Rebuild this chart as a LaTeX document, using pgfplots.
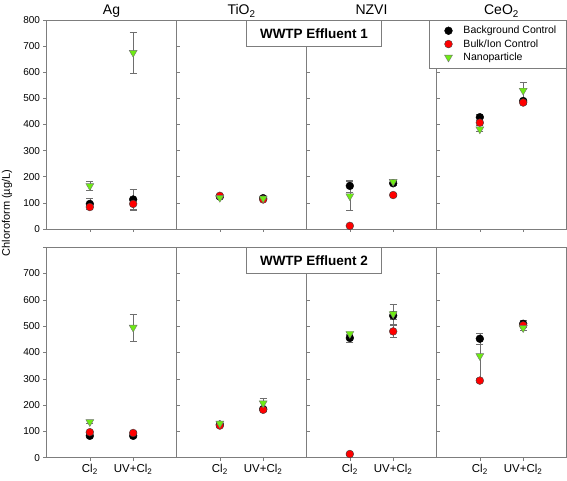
\documentclass[border=0pt]{standalone}
\usepackage{fontspec}
\setmainfont{Liberation Sans}
\usepackage{pgfplots}
\usepackage{pgfplotstable}
\pgfplotsset{compat=1.18}
\definecolor{npgreen}{RGB}{110,235,20}
\definecolor{axgray}{RGB}{125,125,125}
\definecolor{errgray}{RGB}{110,110,110}

% x: 1 = Cl2, 2 = UV+Cl2 ; bg = Background Control, bk = Bulk/Ion Control, np = Nanoparticle
\pgfplotstableread{
x bg bge bk bke np npe
1 96 20 84 8 165 16
2 113 40 96 20 675 77
}\EoneAg
\pgfplotstableread{
x bg bge bk bke np npe
1 124 5 127 5 120 4
2 118 5 113 4 117 4
}\EoneTi
\pgfplotstableread{
x bg bge bk bke np npe
1 165 23 12 3 126 55
2 175 8 130 5 181 5
}\EoneNZ
\pgfplotstableread{
x bg bge bk bke np npe
1 428 10 407 8 382 8
2 490 8 484 8 530 32
}\EoneCe
\pgfplotstableread{
x bg bge bk bke np npe
1 83 5 97 5 136 5
2 83 5 94 5 495 52
}\EtwoAg
\pgfplotstableread{
x bg bge bk bke np npe
1 126 5 122 5 130 5
2 185 5 182 5 207 19
}\EtwoTi
\pgfplotstableread{
x bg bge bk bke np npe
1 455 15 14 3 471 5
2 540 15 480 22 546 37
}\EtwoNZ
\pgfplotstableread{
x bg bge bk bke np npe
1 452 20 293 5 387 85
2 509 12 503 8 493 8
}\EtwoCe

\pgfplotsset{
  panel/.style={
    scale only axis, width=130pt, xmin=0, xmax=3, ymin=0, ymax=800,
    xtick={1,2}, xticklabels={}, ytick={0,100,...,800},
    axis line style={axgray, line width=0.6pt},
    every tick/.style={axgray, line width=0.5pt}, major tick length=3pt,
    tick align=outside, xtick pos=lower, ytick pos=left,
    /pgf/number format/assume math mode=true,
    yticklabel style={font=\fontsize{10}{12}\selectfont},
    xticklabel style={font=\fontsize{11.5}{13}\selectfont},
    every axis title shift=0pt,
    title style={font=\fontsize{14}{16}\selectfont, at={(0.5,1)}, anchor=base, yshift=5pt},
    clip=false, anchor=south west,
  },
  inner/.style={ytick align=inside, yticklabels={}},
  errs/.style={error bars/y dir=both, error bars/y explicit,
    error bars/error bar style={errgray, line width=0.5pt},
    error bars/error mark options={errgray, rotate=90, mark size=3.5pt, line width=0.5pt}},
  bgs/.style={only marks, mark=*, mark size=3.9pt, mark options={fill=black, draw=black}, errs},
  bks/.style={only marks, mark=*, mark size=3.9pt, mark options={fill=red, draw=black!75}, errs},
  nps/.style={only marks, mark=triangle*, mark size=4.6pt, mark options={fill=npgreen, draw=black!55, rotate=180}, errs},
}

\begin{document}
\begin{tikzpicture}[x=1pt,y=1pt]
\useasboundingbox (0,0) rectangle (567,481);
% ---------- top row: WWTP Effluent 1 ----------
\begin{axis}[panel, height=209pt, at={(46.5pt,252pt)}, title={Ag}]
\addplot[bgs] table[x=x, y=bg, y error=bge] {\EoneAg};
\addplot[bks] table[x=x, y=bk, y error=bke] {\EoneAg};
\addplot[nps] table[x=x, y=np, y error=npe] {\EoneAg};
\end{axis}
\begin{axis}[panel, inner, height=209pt, at={(176.5pt,252pt)}, title={TiO\textsubscript{2}}]
\addplot[bgs] table[x=x, y=bg, y error=bge] {\EoneTi};
\addplot[bks] table[x=x, y=bk, y error=bke] {\EoneTi};
\addplot[nps] table[x=x, y=np, y error=npe] {\EoneTi};
\end{axis}
\begin{axis}[panel, inner, height=209pt, at={(306.5pt,252pt)}, title={NZVI}]
\addplot[bgs] table[x=x, y=bg, y error=bge] {\EoneNZ};
\addplot[bks] table[x=x, y=bk, y error=bke] {\EoneNZ};
\addplot[nps] table[x=x, y=np, y error=npe] {\EoneNZ};
\end{axis}
\begin{axis}[panel, inner, height=209pt, at={(436.5pt,252pt)}, title={CeO\textsubscript{2}},
  legend image code/.code={\draw[#1] plot coordinates {(10pt,0pt)};
    \path[draw=none, fill=none] (0pt,0pt) rectangle (24pt,0.1pt);},
  legend style={at={(1,1)}, anchor=north east, draw=axgray, fill=white,
    font=\fontsize{10.5}{12}\selectfont, inner xsep=9pt, inner ysep=5pt,
    nodes={inner sep=1pt}, row sep=2.2pt, column sep=0pt}, legend cell align=left]
\addplot[bgs] table[x=x, y=bg, y error=bge] {\EoneCe};
\addplot[bks] table[x=x, y=bk, y error=bke] {\EoneCe};
\addplot[nps] table[x=x, y=np, y error=npe] {\EoneCe};
\legend{Background Control, Bulk/Ion Control, Nanoparticle}
\end{axis}
% ---------- bottom row: WWTP Effluent 2 ----------
\begin{axis}[panel, height=210.5pt, at={(46.5pt,23.3pt)},
  yticklabels={0,100,200,300,400,500,600,700,{}},
  xticklabels={Cl\textsubscript{2}, UV+Cl\textsubscript{2}}]
\addplot[bgs] table[x=x, y=bg, y error=bge] {\EtwoAg};
\addplot[bks] table[x=x, y=bk, y error=bke] {\EtwoAg};
\addplot[nps] table[x=x, y=np, y error=npe] {\EtwoAg};
\end{axis}
\begin{axis}[panel, inner, height=210.5pt, at={(176.5pt,23.3pt)},
  xticklabels={Cl\textsubscript{2}, UV+Cl\textsubscript{2}}]
\addplot[bgs] table[x=x, y=bg, y error=bge] {\EtwoTi};
\addplot[bks] table[x=x, y=bk, y error=bke] {\EtwoTi};
\addplot[nps] table[x=x, y=np, y error=npe] {\EtwoTi};
\end{axis}
\begin{axis}[panel, inner, height=210.5pt, at={(306.5pt,23.3pt)},
  xticklabels={Cl\textsubscript{2}, UV+Cl\textsubscript{2}}]
\addplot[bgs] table[x=x, y=bg, y error=bge] {\EtwoNZ};
\addplot[bks] table[x=x, y=bk, y error=bke] {\EtwoNZ};
\addplot[nps] table[x=x, y=np, y error=npe] {\EtwoNZ};
\end{axis}
\begin{axis}[panel, inner, height=210.5pt, at={(436.5pt,23.3pt)},
  xticklabels={Cl\textsubscript{2}, UV+Cl\textsubscript{2}}]
\addplot[bgs] table[x=x, y=bg, y error=bge] {\EtwoCe};
\addplot[bks] table[x=x, y=bk, y error=bke] {\EtwoCe};
\addplot[nps] table[x=x, y=np, y error=npe] {\EtwoCe};
\end{axis}
% ---------- boxes and shared label ----------
\node[draw=axgray, fill=white, line width=0.6pt, font=\bfseries\fontsize{13.5}{15}\selectfont,
  minimum width=135pt, minimum height=26pt, inner sep=0pt, anchor=north] at (314,461) {WWTP Effluent 1};
\node[draw=axgray, fill=white, line width=0.6pt, font=\bfseries\fontsize{13.5}{15}\selectfont,
  minimum width=135pt, minimum height=26pt, inner sep=0pt, anchor=north] at (314,233.8) {WWTP Effluent 2};
\node[rotate=90, font=\fontsize{11}{13}\selectfont] at (7,268) {Chloroform (µg/L)};
\end{tikzpicture}
\end{document}
